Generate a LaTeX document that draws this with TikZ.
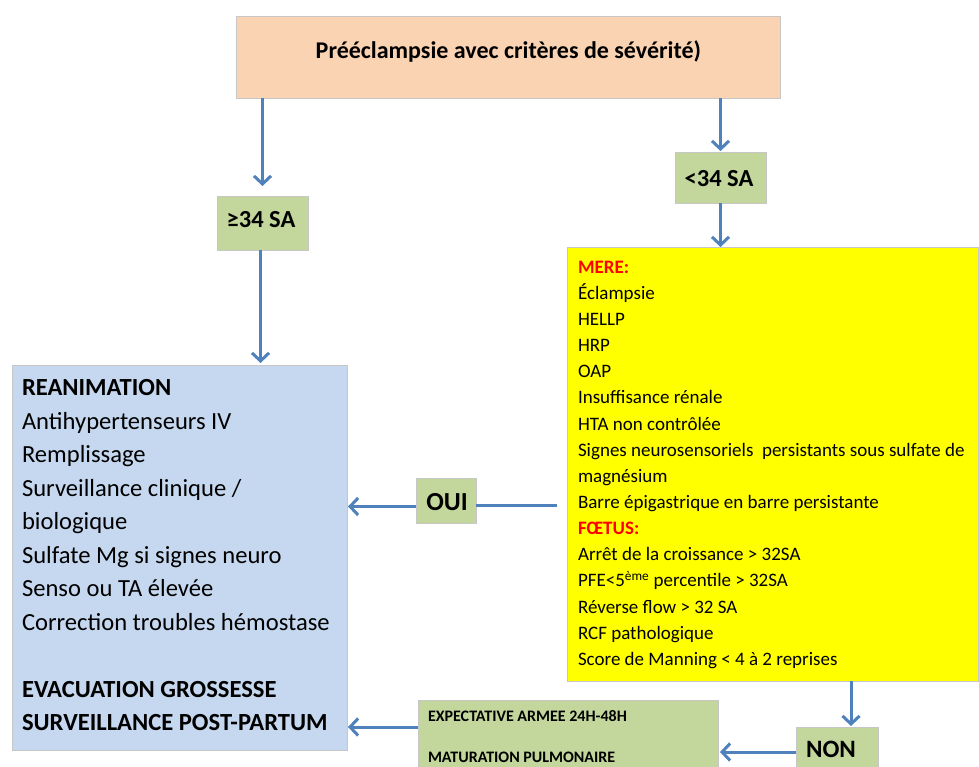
\documentclass[tikz,border=0pt]{standalone}
\usepackage{fontspec}
\setmainfont{Carlito}
\usetikzlibrary{arrows.meta}
\definecolor{peach}{HTML}{FAD3B3}
\definecolor{olive}{HTML}{C3D69B}
\definecolor{paleblue}{HTML}{C6D8EF}
\definecolor{yel}{HTML}{FFFF00}
\definecolor{arrowblue}{HTML}{4F81BD}
\definecolor{redtxt}{HTML}{FF0000}
\tikzset{
  box/.style={draw=black!22, line width=0.8pt, inner sep=0pt, outer sep=0pt},
  lbl/.style={inner sep=0pt, outer sep=0pt},
  conn/.style={draw=arrowblue, line width=3pt},
  arr/.style={conn, -{Straight Barb[length=8pt,width=17pt]}},
}
\begin{document}
\begin{tikzpicture}[x=1pt,y=-1pt]
\clip (0,0) rectangle (979,767);
\fill[white] (0,0) rectangle (979,767);
% boxes
\node[box, fill=peach, minimum width=544pt, minimum height=82pt] (top) at (508.5,57) {};
\node[box, fill=olive, minimum width=91pt, minimum height=54pt] (ge) at (262.5,223) {};
\node[box, fill=olive, minimum width=91pt, minimum height=51pt] (lt) at (720.5,177.5) {};
\node[box, fill=yel, minimum width=411pt, minimum height=434pt] (yb) at (772.5,464) {};
\node[box, fill=paleblue, minimum width=335pt, minimum height=385pt] (bb) at (179.5,557.5) {};
\node[box, fill=olive, minimum width=60pt, minimum height=45pt] (oui) at (446,500.5) {};
\node[box, fill=olive, minimum width=82pt, minimum height=60pt] (non) at (837,757) {};
\node[box, fill=olive, minimum width=300pt, minimum height=90pt] (exp) at (568,745) {};
% texts
\node[lbl, anchor=base, font=\bfseries\fontsize{24}{28}\selectfont] (toptxt) at (508.5,59) {Prééclampsie avec critères de sévérité)};
\node[lbl, anchor=base, font=\bfseries\fontsize{24.5}{28}\selectfont] (getxt) at (261,228) {≥34 SA};
\node[lbl, anchor=base, font=\bfseries\fontsize{24.5}{28}\selectfont] (lttxt) at (719,187) {<34 SA};
\node[lbl, anchor=base, font=\bfseries\fontsize{26}{28}\selectfont] (ouitxt) at (447,510) {OUI};
\node[lbl, anchor=base, font=\bfseries\fontsize{25}{28}\selectfont] (nontxt) at (831,757) {NON};
\node[lbl, anchor=north west, align=left, font=\fontsize{19}{26.13}\selectfont] (ytxt) at (578,261) {%
\textcolor{redtxt}{\bfseries MERE:}\\
Éclampsie\\
HELLP\\
HRP\\
OAP\\
Insuffisance rénale\\
HTA non contrôlée\\
Signes neurosensoriels\ \ persistants sous sulfate de\\
magnésium\\
Barre épigastrique en barre persistante\\
\textcolor{redtxt}{\bfseries FŒTUS:}\\
Arrêt de la croissance > 32SA\\
PFE<5\textsuperscript{ème} percentile > 32SA\\
Réverse flow > 32 SA\\
RCF pathologique\\
Score de Manning < 4 à 2 reprises};
\node[lbl, anchor=north west, align=left, font=\fontsize{24.6}{33.5}\selectfont] (btxt) at (22,379.5) {%
\textbf{REANIMATION}\\
Antihypertenseurs IV\\
Remplissage\\
Surveillance clinique /\\
biologique\\
Sulfate Mg si signes neuro\\
Senso ou TA élevée\\
Correction troubles hémostase\\[33.5pt]
\textbf{EVACUATION GROSSESSE}\\
\textbf{SURVEILLANCE POST-PARTUM}};
\node[lbl, anchor=north west, align=left, font=\bfseries\fontsize{16}{20.5}\selectfont] (etxt) at (428,710) {%
EXPECTATIVE ARMEE 24H-48H\\[20.5pt]
MATURATION PULMONAIRE};
% connectors
\draw[arr, shorten >=10pt] (top.south -| ge.north) -- (ge.north);
\draw[arr, shorten >=1pt] (top.south -| lt.north) -- (lt.north);
\draw[arr] (lt.south) -- (lt.south |- yb.north);
\draw[arr, shorten >=2pt] ([xshift=-2pt]ge.south) -- ([xshift=-2pt]ge.south |- bb.north);
\draw[conn, shorten <=10pt] (yb.west |- 0,505.5) -- (oui.east |- 0,505.5);
\draw[arr, shorten >=1pt] (oui.west |- 0,506.5) -- (bb.east |- 0,506.5);
\draw[arr, shorten >=1pt] ([xshift=14pt]non.north |- yb.south) -- ([xshift=14pt]non.north);
\draw[arr, shorten >=2pt] (non.west |- 0,752) -- (exp.east |- 0,752);
\draw[arr, shorten >=1pt] (exp.west |- 0,727) -- (bb.east |- 0,727);
\end{tikzpicture}
\end{document}
